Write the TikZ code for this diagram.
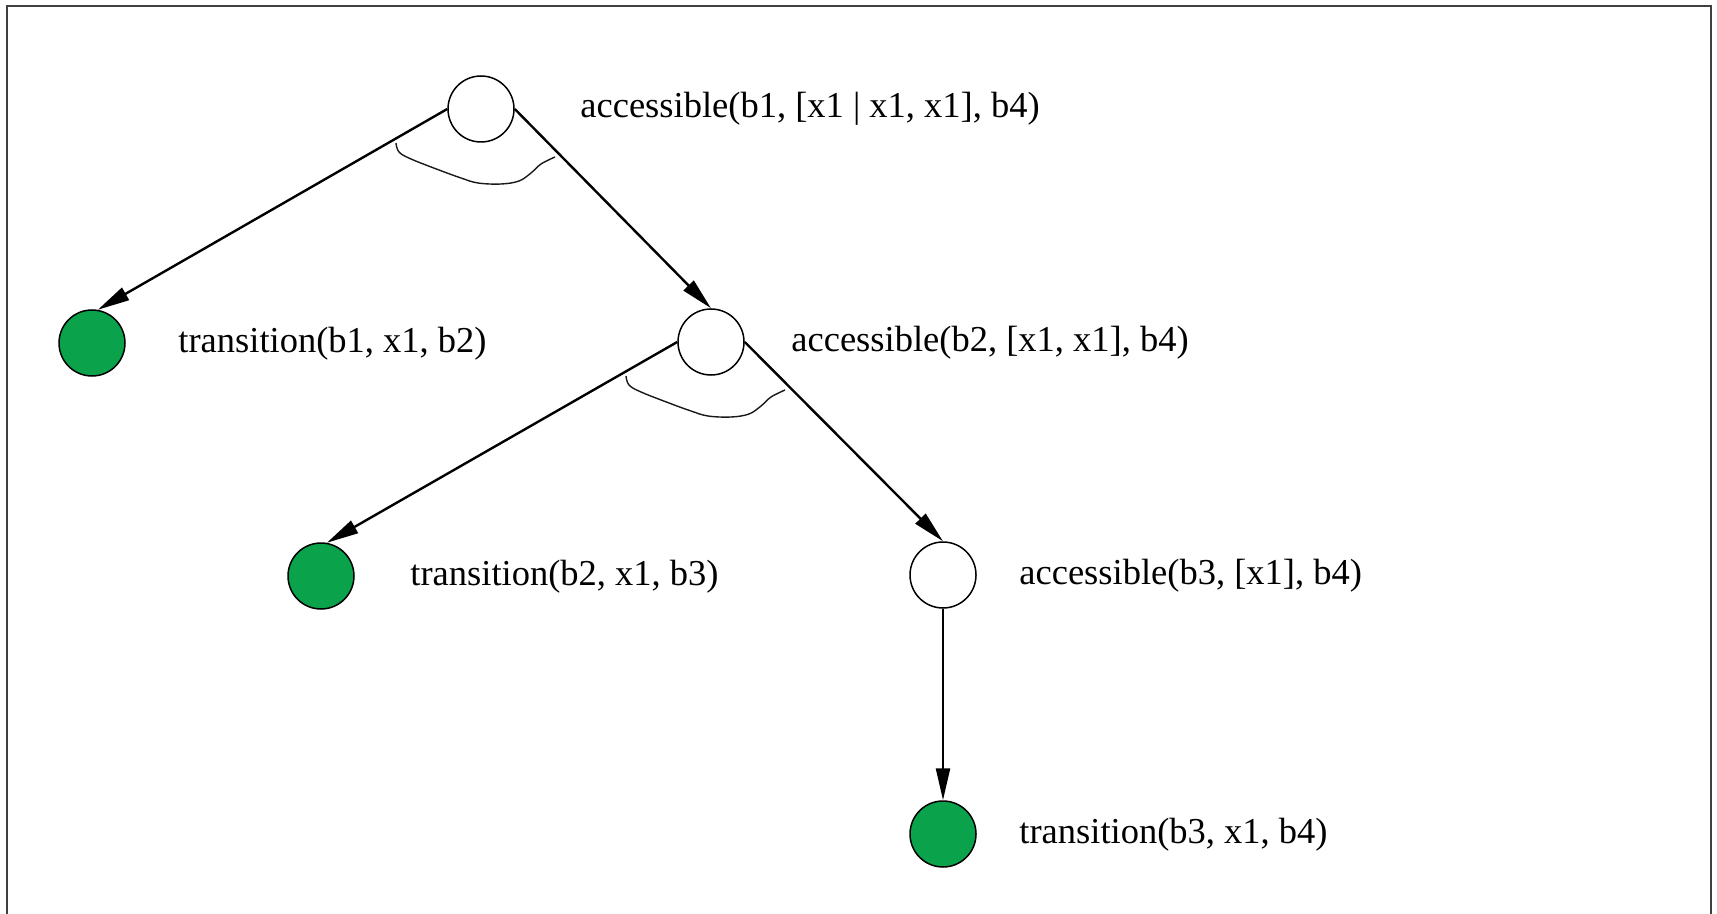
\documentclass[tikz,border=0pt]{standalone}
\usepackage{fontspec}
\setmainfont{Liberation Serif}
\usetikzlibrary{arrows.meta}
\definecolor{leafgreen}{RGB}{10,163,76}
\definecolor{framegray}{RGB}{64,64,64}
\tikzset{
  goal/.style={circle, draw=black, line width=0.75pt, fill=white, minimum size=33pt, inner sep=0pt},
  fact/.style={goal, fill=leafgreen},
  lbl/.style={anchor=base west, inner sep=0pt, font=\fontsize{18.25}{22}\selectfont},
  edge/.style={line width=1.2pt, -{Triangle[length=16pt, width=7pt]}},
  andarc/.style={line width=0.7pt, black!90}
}
\begin{document}
\begin{tikzpicture}[x=0.5pt, y=-0.5pt]
  \useasboundingbox (0,0) rectangle (1717,914);
  % open frame (bottom edge falls outside the page)
  \draw[framegray, line width=1.2pt] (7,930) -- (7,6) -- (1711,6) -- (1711,930);

  % goal tree
  \node[goal] (n1) at (481,109) {};
  \node[goal] (n2) at (711,342) {};
  \node[goal] (n3) at (943,575) {};
  \node[fact] (g1) at (92,343) {};
  \node[fact] (g2) at (321,576) {};
  \node[fact] (g3) at (943,834) {};

  % predicates
  \node[lbl] (t1) at (580,118) {accessible(b1, [x1 | x1, x1], b4)};
  \node[lbl] (t2) at (178,352) {transition(b1, x1, b2)};
  \node[lbl] (t3) at (791,351) {accessible(b2, [x1, x1], b4)};
  \node[lbl] (t4) at (410,585) {transition(b2, x1, b3)};
  \node[lbl] (t5) at (1019,584) {accessible(b3, [x1], b4)};
  \node[lbl] (t6) at (1019,843) {transition(b3, x1, b4)};

  % edges
  \draw[edge] (n1.west) -- (g1.80);
  \draw[edge] (n1.east) -- (n2.north);
  \draw[edge] (n2.west) -- (g2.80);
  \draw[edge] (n2.east) -- (n3.north);
  \draw[edge] (n3.south) -- (g3.north);

  % AND arcs joining sibling edges
  \foreach \p in {n1,n2}{
    \draw[andarc, shift={(\p.center)}] plot[smooth, tension=0.6] coordinates
      {(-85,34) (-82,43) (-70,50) (-42,61) (-20,69) (-3,74) (20,75) (38,72) (50,64) (60,55) (74,48)};
  }
\end{tikzpicture}
\end{document}
